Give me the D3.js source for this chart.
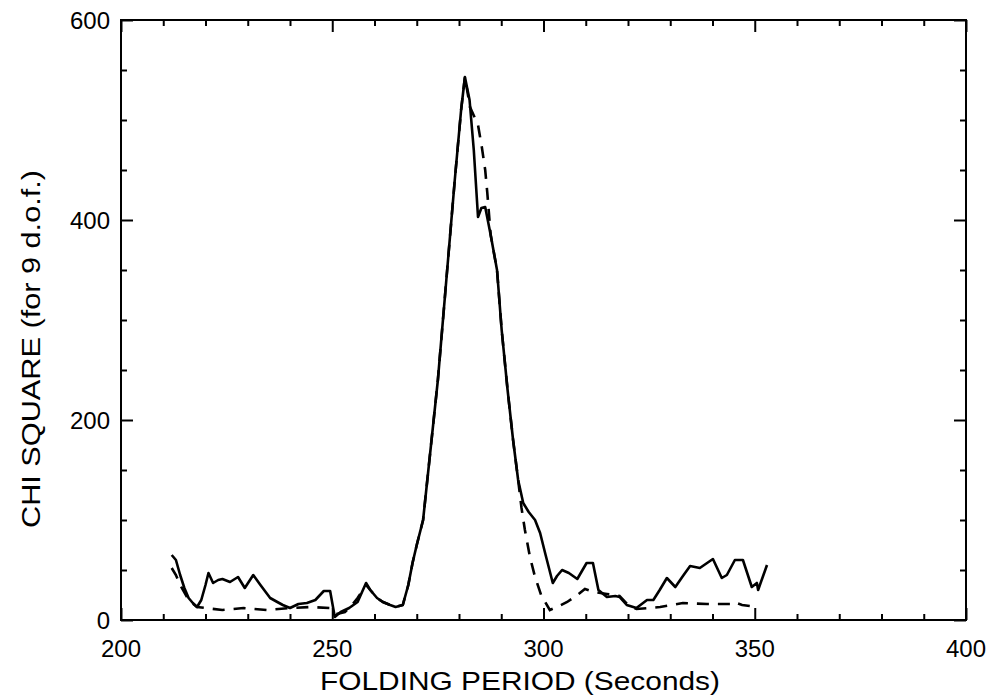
<!DOCTYPE html>
<html>
<head>
<meta charset="utf-8">
<script src="https://cdn.jsdelivr.net/npm/d3@7"></script>
<style>
html,body{margin:0;padding:0;background:#fff;}
svg{display:block;}
text{font-family:"Liberation Sans",Arial,Helvetica,sans-serif;fill:#000;}
</style>
</head>
<body>
<svg id="chart" width="994" height="699"></svg>
<script>
// ---- data ----
const xLabel = "FOLDING PERIOD (Seconds)";
const yLabel = "CHI SQUARE (for 9 d.o.f.)";
const xDomain = [200, 400];
const yDomain = [0, 600];
const xMajorTicks = [200, 250, 300, 350, 400];
const yMajorTicks = [0, 200, 400, 600];

const solidPeriod = [212,213,214,215,216,217,218,219,220,220.7,221.8,223,224,225.8,227.7,229.3,231.3,233,235.3,237,238.3,240,242,244,246,248,249.5,250.6,252,254,256,258,259,260.6,262,263.7,265,266.7,268,269,270,271.5,273,275,277,279,280.5,281.4,282.5,283.5,284.5,285.3,286.2,287.5,289,290.1,291.5,292.8,294,295.2,296.5,298,299.2,300.5,302.2,303.2,304.4,306,308,310.2,311.7,313,315,317,318,319.7,322,324.5,326,327.5,329.2,331.2,333,334.7,337,340.1,342.2,343.4,345.3,347.2,349.3,350.5,350.8,352.9];
const solidChi = [65,60,45,32,22,17,13,20,35,47,37,40,41,38,43,32,45,35,22,18,15,12,16,17,20,29,29,3,8,12,18,37,30,22,18,15,13,15,35,57,75,100,160,240,340,440,510,543,520,470,403,412,413,385,350,290,230,180,140,117,108,100,87,65,37,44,50,47,41,57,57,30,23,24,23,15,12,20,20,30,42,33,44,54,52,61,42,45,60,60,33,37,30,55];

const dashedPeriod = [212,213,214,216,218,220,224,229,234.6,240,245,249.5,251,253,254.5,256,258,259,260.6,262,263.7,265,266.7,268,269,270,271.5,273,275,277,279,280.5,281.4,282.6,284.5,285.4,286.2,286.7,287.5,289,290.1,291.5,292.8,294,294.8,295.6,296.8,298,299.6,300.4,301.5,303.2,305.6,308,309.8,312,315,318,320,322,325,327.6,333,338.7,344.2,345,347,348.9,350];
const dashedChi = [52,45,35,20,13,12,10,12,10,12,13,12,6,8,14,22,35,30,22,18,15,13,15,35,57,75,100,160,240,340,440,510,543,513,495,473,450,427,385,350,290,230,180,140,112,90,63,43,23,18,10,13,18,25,31,28,26,24,15,11,12,13,17,16,16,18,15,14,21];

// ---- layout ----
const svg = d3.select("#chart");
const L = 121, R = 966, T = 20, B = 620;
const x = d3.scaleLinear().domain(xDomain).range([L, R]);
const y = d3.scaleLinear().domain(yDomain).range([B, T]);

const xMinor = d3.range(xDomain[0], xDomain[1] + 1, 10);
const yMinor = d3.range(yDomain[0], yDomain[1] + 1, 50);
const isXMajor = v => xMajorTicks.includes(v);
const isYMajor = v => yMajorTicks.includes(v);

// frame
svg.append("rect").attr("x", L).attr("y", T).attr("width", R - L).attr("height", B - T)
  .attr("fill", "none").attr("stroke", "#000").attr("stroke-width", 2);

function tickLen(major){ return major ? 12 : 6; }
const gBottom = svg.append("g").attr("transform", `translate(0,${B})`)
  .call(d3.axisBottom(x).tickValues(xMinor).tickSize(0).tickFormat(""));
gBottom.select(".domain").remove();
gBottom.selectAll(".tick line").attr("y1", 0).attr("y2", d => -tickLen(isXMajor(d))).attr("stroke", "#000").attr("stroke-width", 2);

const gTop = svg.append("g").attr("transform", `translate(0,${T})`)
  .call(d3.axisTop(x).tickValues(xMinor).tickSize(0).tickFormat(""));
gTop.select(".domain").remove();
gTop.selectAll(".tick line").attr("y1", 0).attr("y2", d => tickLen(isXMajor(d))).attr("stroke", "#000").attr("stroke-width", 2);

const gLeft = svg.append("g").attr("transform", `translate(${L},0)`)
  .call(d3.axisLeft(y).tickValues(yMinor).tickSize(0).tickFormat(""));
gLeft.select(".domain").remove();
gLeft.selectAll(".tick line").attr("x1", 0).attr("x2", d => tickLen(isYMajor(d))).attr("stroke", "#000").attr("stroke-width", 2);

const gRight = svg.append("g").attr("transform", `translate(${R},0)`)
  .call(d3.axisRight(y).tickValues(yMinor).tickSize(0).tickFormat(""));
gRight.select(".domain").remove();
gRight.selectAll(".tick line").attr("x1", 0).attr("x2", d => -tickLen(isYMajor(d))).attr("stroke", "#000").attr("stroke-width", 2);

// tick labels
svg.append("g").selectAll("text").data(xMajorTicks).join("text")
  .attr("x", d => x(d)).attr("y", 657).attr("text-anchor", "middle")
  .attr("font-size", 24).text(d => d);
svg.append("g").selectAll("text").data(yMajorTicks).join("text")
  .attr("x", L - 11).attr("y", d => y(d)).attr("dy", "0.36em").attr("text-anchor", "end")
  .attr("font-size", 24).text(d => d);

// axis titles
svg.append("text").attr("x", 520).attr("y", 690).attr("text-anchor", "middle")
  .attr("font-size", 26).attr("textLength", 400).attr("lengthAdjust", "spacingAndGlyphs").text(xLabel);
svg.append("text").attr("transform", "translate(40,349) rotate(-90)").attr("text-anchor", "middle")
  .attr("font-size", 25).attr("textLength", 358).attr("lengthAdjust", "spacingAndGlyphs").text(yLabel);

// lines
const line = d3.line().x(d => x(d[0])).y(d => y(d[1]));
svg.append("path").datum(dashedPeriod.map((p, i) => [p, dashedChi[i]]))
  .attr("d", line).attr("fill", "none").attr("stroke", "#000").attr("stroke-width", 2.6)
  .attr("stroke-dasharray", "12,9");
svg.append("path").datum(solidPeriod.map((p, i) => [p, solidChi[i]]))
  .attr("d", line).attr("fill", "none").attr("stroke", "#000").attr("stroke-width", 2.6)
  .attr("stroke-linejoin", "round");
</script>
</body>
</html>
